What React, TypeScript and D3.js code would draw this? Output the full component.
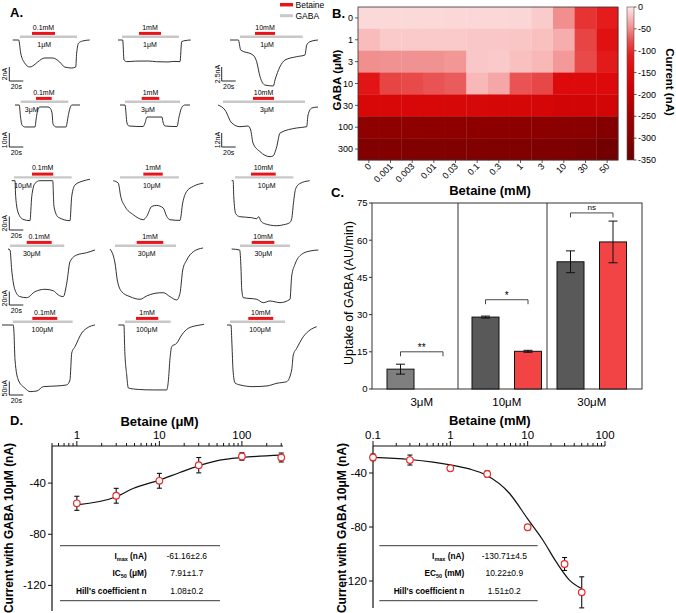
import React from "react";
import * as d3 from "d3";

type Pt = [number, number];
const FONT = "'Liberation Sans', Arial, Helvetica, sans-serif";
const W = 676;
const H = 613;

// ================= Panel A data (time in s, current in nA) =================
const gabaConcA = ["1μM", "3μM", "10μM", "30μM", "100μM"];
const betaineConcA = ["0.1mM", "1mM", "10mM"];
const scaleBarValues = [[2, 2, 2.5], [10, 10, 12], [20, 20, 20], [20, 20, 20], [50, 50, 50]];
const scaleBarSeconds = 20;

const trace_r1c1: Pt[] = [[0,0],[8.6,0],[11.4,-1.86],[17.1,-3.29],[24.3,-3.86],[28.6,-3.71],[35.7,-3.14],[45.7,-2.57],[57.1,-2.57],[67.1,-3.14],[74.3,-3.86],[84.3,-4],[90,-3.86],[91.4,-1.86],[94.3,-0.43],[100,-0.14],[110,0]];
const trace_r1c2: Pt[] = [[0,0],[6.7,0],[8.6,-2.86],[12.4,-3.09],[25,-3.02],[42.9,-3],[55,-3.1],[71.4,-3.14],[80,-3.06],[88.6,-3.09],[91,-0.23],[95.7,-0.09],[103.9,0]];
const trace_r1c3: Pt[] = [[0,0],[11.9,0],[15.3,-1.79],[32.9,-2.68],[38.1,-3.88],[42.9,-6.55],[50,-8.04],[61.9,-8.21],[64.3,-7.14],[71.4,-4.77],[78.6,-3.57],[95.3,-2.98],[107.1,-2.68],[109.6,-0.89],[114.3,-0.3],[125.7,0]];
const trace_r2c1: Pt[] = [[0,0],[6.1,0],[7.9,-8.6],[10,-14.3],[14.3,-15.7],[28.6,-15.7],[30,-10.7],[32.9,-2.9],[35.7,-1.4],[47.1,-1.4],[50,-2.1],[52.9,-5.7],[54.3,-13.6],[58.6,-15.7],[72.9,-15.7],[75.7,-8.6],[78.6,-2.1],[81.4,0],[92.9,0]];
const trace_r2c2: Pt[] = [[0,0],[7.1,0],[10,-12.9],[12.9,-15],[32.9,-15.4],[35.7,-12.9],[38.6,-8.6],[42.9,-8.6],[60,-8.6],[61.4,-12.1],[64.3,-15],[81.4,-15.4],[84.3,-8.6],[88.6,-1.4],[92.9,0],[100,0]];
const trace_r2c3: Pt[] = [[0,0],[10,-4.3],[19.6,-15.4],[31.4,-18.6],[42.9,-18],[46.7,-21.4],[50,-32.6],[60,-40],[74.3,-44.3],[78.6,-43.7],[83.9,-35.7],[88.6,-24],[112.4,-19.7],[126.7,-18.6],[128.6,-8.6],[133.9,-2.6],[142.9,-1.7]];
const trace_r3c1: Pt[] = [[0,0],[4.7,0],[5.7,-23.7],[9.4,-47.8],[16.1,-57.2],[26.1,-59.2],[28.6,-23.7],[33.3,-3.9],[40.4,0],[58.6,0],[60.4,-38.5],[66.6,-54.2],[83.3,-59.2],[85.7,-23.7],[90.4,-6.4],[101.9,-0.4],[111.9,2.1]];
const trace_r3c2: Pt[] = [[0,0],[7.1,-3.6],[10.6,-23.3],[16.7,-38.1],[28.6,-50.4],[42.9,-57.8],[47.7,-52.9],[54.9,-38.1],[62,-36.6],[71.4,-40.6],[76.3,-52.9],[81,-57.8],[95.3,-58.8],[99.1,-33.2],[104.9,-15.8],[114.3,-8.4],[128.6,-3.6]];
const trace_r3c3: Pt[] = [[0,0],[2.1,0],[2.9,-22.2],[5.7,-48.9],[11.4,-53.3],[28.6,-54.8],[35.7,-56.3],[38.6,-53.3],[41.4,-59.2],[47.1,-63.7],[64.3,-66.7],[74.3,-65.2],[82.9,-62.2],[85.7,-56.3],[88.6,-29.6],[91.4,-11.8],[97.1,-4.4],[111.4,0]];
const trace_r4c1: Pt[] = [[0,0],[2.9,-1.5],[5.3,-31.1],[10,-60.7],[17.1,-70.6],[26.7,-72.1],[38.6,-63.2],[52.9,-59.7],[64.7,-61.8],[71.9,-68.1],[79,-70.6],[83.9,-50.8],[88.6,-18.8],[98.1,-8.9],[112.4,-5.5],[124.3,-1.5]];
const trace_r4c2: Pt[] = [[0,0],[7.1,-20.7],[10.4,-45.9],[16.7,-63.2],[28.6,-70.6],[42.9,-74.5],[52.4,-69.6],[64.3,-65.6],[76.1,-64.7],[85.7,-70.6],[95.3,-75.5],[100,-65.6],[103.9,-31.1],[109.6,-16.3],[119,-4],[132.9,1.5]];
const trace_r4c3: Pt[] = [[0,0],[11.4,-1.5],[13.3,-29.6],[14.3,-59.2],[16.6,-72.1],[35.7,-74.5],[45.1,-79.5],[54.7,-77],[69,-79.5],[83.3,-74.5],[85.7,-40],[90.4,-22.7],[100,-7.8],[111.9,-3],[123.7,-1.5]];
const trace_r5c1: Pt[] = [[0,0],[16.1,0],[16.9,-18.5],[18.6,-129.5],[23.3,-203.5],[32.9,-234.2],[40,-246.8],[50,-244.2],[59,-228.3],[78.6,-225.7],[92.4,-222],[97.1,-203.5],[99.6,-103.6],[104.3,-80.3],[113.9,-29.6],[123.3,-8.5],[132.9,0]];
const trace_r5c2: Pt[] = [[0,0],[8.1,0],[9.1,-86.2],[12,-185],[14.3,-233.1],[28.6,-238.7],[50,-240.5],[69.1,-240.5],[71.4,-209.8],[73.9,-123.2],[76.3,-79.9],[83.4,-67.7],[90.6,-37],[100,-12.2],[116.7,0],[122.4,2.6]];
const trace_r5c3: Pt[] = [[0,0],[5.7,0],[7.1,-74],[8.6,-166.5],[11.4,-214.6],[18.6,-222],[37.1,-228.3],[57.1,-225.7],[71.4,-215.7],[85.3,-209.8],[92.4,-166.5],[94.7,-111],[99.6,-86.2],[109,-43.3],[118.6,-18.5],[128.1,-6.3]];

const traces: Pt[][][] = [
  [trace_r1c1, trace_r1c2, trace_r1c3],
  [trace_r2c1, trace_r2c2, trace_r2c3],
  [trace_r3c1, trace_r3c2, trace_r3c3],
  [trace_r4c1, trace_r4c2, trace_r4c3],
  [trace_r5c1, trace_r5c2, trace_r5c3],
];
// application windows (s)
const gabaWindows: Pt[][] = [
  [[10.4, 91.9], [5.7, 87.1], [14.3, 103.9]],
  [[8.1, 76.1], [7.1, 85.7], [7.1, 124.3]],
  [[3.3, 85.7], [9.6, 93.9], [4.7, 88]],
  [[2.9, 80.4], [7.1, 94.3], [11.9, 83.3]],
  [[15.3, 101], [9.6, 74.9], [4.3, 82.9]],
];
const betaineWindows: Pt[][] = [
  [[27.6, 60.4], [30, 61.4], [35.7, 64.3]],
  [[30, 52.4], [31, 56.1], [50, 80]],
  [[29, 59.4], [42.9, 70.6], [27.6, 62.9]],
  [[26.7, 62.4], [38.1, 76.1], [28.6, 60.9]],
  [[43.3, 79], [25.3, 57.1], [30.4, 66.1]],
];
const gabaLabelTimes = [[45, 45.7, 52.9], [23.9, 40, 70], [16.1, 54.9, 50], [33.9, 52.4, 45.1], [57.6, 40.6, 47.1]];

// ================= Panel B data =================
const hmBetaine = ["0", "0.001", "0.003", "0.01", "0.03", "0.1", "0.3", "1", "3", "10", "30", "50"];
const hmGaba = ["0", "1", "3", "10", "30", "100", "300"];
const hmRow_G0 = [-8, -8, -8, -8, -9, -9, -9, -10, -16, -48, -95, -110];
const hmRow_G1 = [-24, -17, -17, -17, -17, -18, -18, -19, -22, -32, -84, -135];
const hmRow_G3 = [-48, -46, -46, -46, -44, -18, -17, -22, -26, -42, -80, -115];
const hmRow_G10 = [-125, -84, -80, -76, -72, -26, -35, -76, -82, -150, -150, -150];
const hmRow_G30 = [-160, -160, -160, -160, -162, -162, -163, -165, -168, -175, -175, -172];
const hmRow_G100 = [-285, -285, -285, -287, -287, -287, -288, -288, -290, -292, -295, -305];
const hmRow_G300 = [-308, -308, -310, -310, -310, -311, -312, -312, -314, -315, -320, -335];
const hmRows = [hmRow_G0, hmRow_G1, hmRow_G3, hmRow_G10, hmRow_G30, hmRow_G100, hmRow_G300];
const hmColorValues = [-350, -300, -250, -200, -150, -110, -80, -50, -25, 0];
const hmColors = ["#6a0000", "#870000", "#a20000", "#c60000", "#dc0a0a", "#e41c1c", "#e84a4a", "#f08a8a", "#f8baba", "#fde8e8"];
const hmColorTicks = [0, -50, -100, -150, -200, -250, -300, -350];

// ================= Panel C data =================
const cGroups = ["3μM", "10μM", "30μM"];
const cControl = [8, 29, 51.3];
const cControlErr = [2, 0.4, 4.4];
const cBetaine = [0, 15.2, 59.3];
const cBetaineErr = [0, 0.4, 8.4];
const cSigLabels = ["**", "*", "ns"];
const cSigLevels = [15, 36, 71];
const cYTicks = [0, 15, 30, 45, 60, 75];

// ================= Panel D data =================
const dLeftX = [1, 3, 10, 30, 100, 300];
const dLeftY = [-55.8, -49.9, -38.2, -26, -19.2, -20];
const dLeftErr = [5.5, 5.8, 5.8, 6, 2.9, 3.5];
const dLeftFitX = [1, 3, 4.8, 10, 17.7, 30, 54, 100, 300];
const dLeftFitY = [-57, -50.7, -44.2, -37.7, -31.7, -26.5, -22.1, -20, -18.2];
const dRightX = [0.1, 0.3, 1, 3, 10, 30, 50];
const dRightY = [-28.4, -30.4, -36.5, -40.7, -80.2, -107.4, -128.4];
const dRightErr = [2.5, 3.7, 1.7, 2.2, 2, 4.8, 11.5];
const dRightFitX = [0.1, 0.3, 0.6, 1, 1.76, 2.9, 5.8, 10, 15.7, 23.3, 34.7, 49];
const dRightFitY = [-28.4, -30, -32, -34, -37, -41.5, -55, -74, -89.6, -105.7, -119.3, -125.4];
const dYTicks = [-40, -80, -120];
const dLeftTable = [["I", "max", " (nA)", "-61.16±2.6"], ["IC", "50", " (μM)", "7.91±1.7"], ["Hill's coefficient n", "", "", "1.08±0.2"]];
const dRightTable = [["I", "max", " (nA)", "-130.71±4.5"], ["EC", "50", " (mM)", "10.22±0.9"], ["Hill's coefficient n", "", "", "1.51±0.2"]];

// ================= Layout =================
const aRowY = [40, 105, 180.7, 249, 325];
const aColX0 = [[12.7, 118, 230], [15, 120, 218], [11.7, 113.3, 231.7], [8, 110, 231.7], [2, 118.3, 227]];
const aScalePx = [14, 14, 13.5, 13.5, 13.5];
const A_PX_PER_S = 0.7;
const aScaleBarX = [9.3, 221.7];
const aScaleBarBottom = [81, 147, 230, 305, 395];

const RED = "#e8141a";

function LogTicks({ scale, y, labels }: { scale: any; y: number; labels: number[] }) {
  const ticks: number[] = scale.ticks();
  const [r0, r1] = scale.range();
  return (
    <g>
      <line x1={r0} x2={r1} y1={y} y2={y} stroke="#111" strokeWidth={1.2} />
      {ticks.map((t, i) => {
        const major = Math.abs(Math.log10(t) - Math.round(Math.log10(t))) < 1e-6;
        return <line key={i} x1={scale(t)} x2={scale(t)} y1={y} y2={y - (major ? 5 : 3)} stroke="#111" strokeWidth={1} />;
      })}
      {labels.map((t, i) => (
        <text key={"l" + i} x={scale(t)} y={y - 7} fontSize={11.5} textAnchor="middle">{t}</text>
      ))}
    </g>
  );
}

function StatTable({ x1, x2, labelRight, valueCenter, rows }: { x1: number; x2: number; labelRight: number; valueCenter: number; rows: string[][] }) {
  const rowY = [559, 575.7, 594];
  return (
    <g>
      <line x1={x1} x2={x2} y1={545.7} y2={545.7} stroke="#222" strokeWidth={0.9} />
      <line x1={x1} x2={x2} y1={600.7} y2={600.7} stroke="#222" strokeWidth={0.9} />
      {rows.map((r, i) => (
        <g key={i}>
          <text x={labelRight} y={rowY[i]} fontSize={8.3} fontWeight="bold" textAnchor="end">
            <tspan>{r[0]}</tspan>
            {r[1] ? <tspan fontSize={5.5} dy={1.8}>{r[1]}</tspan> : null}
            {r[2] ? <tspan dy={-1.8}>{r[2]}</tspan> : null}
          </text>
          <text x={valueCenter} y={rowY[i]} fontSize={8.5} textAnchor="middle">{r[3]}</text>
        </g>
      ))}
    </g>
  );
}

export default function App() {
  // ---------- Panel A ----------
  const panelA: React.ReactNode[] = [];
  for (let r = 0; r < traces.length; r++) {
    for (let c = 0; c < 3; c++) {
      const x0 = aColX0[r][c];
      const base = aRowY[r];
      const xs = d3.scaleLinear().domain([0, 1]).range([x0, x0 + A_PX_PER_S]);
      const ys = d3.scaleLinear().domain([0, scaleBarValues[r][c]]).range([base, base - aScalePx[r]]);
      const path = d3.line<Pt>().x((d) => xs(d[0])).y((d) => ys(d[1])).curve(d3.curveMonotoneX)(traces[r][c]) || "";
      const [g0, g1] = gabaWindows[r][c];
      const [b0, b1] = betaineWindows[r][c];
      panelA.push(
        <g key={`t${r}${c}`}>
          <line x1={xs(g0)} x2={xs(g1)} y1={base - 3.3} y2={base - 3.3} stroke="#c8c8c8" strokeWidth={2.4} />
          <line x1={xs(b0)} x2={xs(b1)} y1={base - 6.6} y2={base - 6.6} stroke={RED} strokeWidth={3} />
          <text x={xs((b0 + b1) / 2)} y={base - 10.3} fontSize={7} textAnchor="middle">{betaineConcA[c]}</text>
          <text x={xs(gabaLabelTimes[r][c])} y={base + 6.8} fontSize={7} textAnchor="middle">{gabaConcA[r]}</text>
          <path d={path} fill="none" stroke="#1a1a1a" strokeWidth={0.9} />
        </g>
      );
      // scale bars
      const hasBar = c === 0 || (c === 2 && r < 2);
      if (hasBar) {
        const bx = aScaleBarX[c === 0 ? 0 : 1];
        const bb = aScaleBarBottom[r];
        const top = ys(scaleBarValues[r][c]) - base + bb;
        const right = bx + scaleBarSeconds * A_PX_PER_S;
        panelA.push(
          <g key={`sb${r}${c}`}>
            <path d={`M${bx},${top}V${bb}H${right}`} fill="none" stroke="#111" strokeWidth={0.9} />
            <text transform={`translate(${bx - 2},${(top + bb) / 2}) rotate(-90)`} fontSize={7} textAnchor="middle">{`${scaleBarValues[r][c]}nA`}</text>
            <text x={bx + 7} y={bb + 7.5} fontSize={7} textAnchor="middle">{`${scaleBarSeconds}s`}</text>
          </g>
        );
      }
    }
  }

  // ---------- Panel B ----------
  const hx = d3.scaleBand<string>().domain(hmBetaine).range([358, 618]);
  const hy = d3.scaleBand<string>().domain(hmGaba).range([7, 160]);
  const hColor = d3.scaleLinear<string>().domain(hmColorValues).range(hmColors).clamp(true);
  const cbY = d3.scaleLinear().domain([-350, 0]).range([160, 7]);

  // ---------- Panel C ----------
  const yC = d3.scaleLinear().domain([0, 75]).range([389, 203]);
  const xC = d3.scalePoint<number>().domain([0, 1, 2, 3, 4, 5]).range([400.5, 613]);
  const cBarW = 27;
  const cFrame = { left: 372, right: 642, dividers: [458, 547] };

  // ---------- Panel D ----------
  const dlx = d3.scaleLog().domain([0.5, 315]).range([52, 283]);
  const dly = d3.scaleLinear().domain([-140, -11]).range([611, 446]);
  const drx = d3.scaleLog().domain([0.1, 100]).range([373, 605]);
  const dry = d3.scaleLinear().domain([-140, -20]).range([608, 446]);

  const fitLine = (xs: any, ys: any, X: number[], Y: number[]) =>
    d3.line<number>().x((_, i) => xs(X[i])).y((_, i) => ys(Y[i])).curve(d3.curveMonotoneX)(X) || "";

  const points = (xs: any, ys: any, X: number[], Y: number[], E: number[]) =>
    X.map((x, i) => (
      <g key={i}>
        <line x1={xs(x)} x2={xs(x)} y1={ys(Y[i] - E[i])} y2={ys(Y[i] + E[i])} stroke="#111" strokeWidth={1.1} />
        <line x1={xs(x) - 2.5} x2={xs(x) + 2.5} y1={ys(Y[i] - E[i])} y2={ys(Y[i] - E[i])} stroke="#111" strokeWidth={1.1} />
        <line x1={xs(x) - 2.5} x2={xs(x) + 2.5} y1={ys(Y[i] + E[i])} y2={ys(Y[i] + E[i])} stroke="#111" strokeWidth={1.1} />
        <circle cx={xs(x)} cy={ys(Y[i])} r={3.3} fill="#fff" stroke="#ee2a2a" strokeWidth={1.2} />
      </g>
    ));

  const yAxisD = (xs0: number, ys: any, top: number, bottom: number) => (
    <g>
      <line x1={xs0} x2={xs0} y1={top} y2={bottom} stroke="#111" strokeWidth={1.2} />
      {dYTicks.map((t) => (
        <g key={t}>
          <line x1={xs0 - 4} x2={xs0} y1={ys(t)} y2={ys(t)} stroke="#111" strokeWidth={1} />
          <text x={xs0 - 6} y={ys(t) + 4} fontSize={11.5} textAnchor="end">{t}</text>
        </g>
      ))}
    </g>
  );

  return (
    <div style={{ position: "absolute", left: 0, top: 0, width: W, height: H, background: "#fff" }}>
      <svg width={W} height={H} fontFamily={FONT} style={{ display: "block" }}>
        <rect width={W} height={H} fill="#fff" />
        {/* ===== Panel A ===== */}
        <text x={10} y={17} fontSize={13} fontWeight="bold">A.</text>
        {panelA}
        {/* legend */}
        <line x1={280} x2={293} y1={4.7} y2={4.7} stroke={RED} strokeWidth={3.5} />
        <text x={295.5} y={7.8} fontSize={8.5}>Betaine</text>
        <line x1={280} x2={293} y1={15.7} y2={15.7} stroke="#c8c8c8" strokeWidth={3} />
        <text x={295.5} y={18.8} fontSize={8.5}>GABA</text>

        {/* ===== Panel B ===== */}
        <text x={332} y={18} fontSize={13} fontWeight="bold">B.</text>
        {hmRows.map((row, ri) =>
          row.map((v, ci) => (
            <rect key={`${ri}-${ci}`} x={hx(hmBetaine[ci])} y={hy(hmGaba[ri])} width={hx.bandwidth() + 0.3} height={hy.bandwidth() + 0.3} fill={hColor(v)} />
          ))
        )}
        <rect x={358} y={7} width={260} height={153} fill="none" stroke="#333" strokeWidth={0.8} />
        {hmGaba.map((g) => (
          <g key={g}>
            <line x1={355} x2={358} y1={(hy(g) || 0) + hy.bandwidth() / 2} y2={(hy(g) || 0) + hy.bandwidth() / 2} stroke="#333" strokeWidth={0.8} />
            <text x={353} y={(hy(g) || 0) + hy.bandwidth() / 2 + 3.2} fontSize={9} textAnchor="end">{g}</text>
          </g>
        ))}
        {hmBetaine.map((b) => {
          const cx = (hx(b) || 0) + hx.bandwidth() / 2;
          return (
            <g key={b}>
              <line x1={cx} x2={cx} y1={160} y2={163} stroke="#333" strokeWidth={0.8} />
              <text transform={`translate(${cx + 3},${167}) rotate(-45)`} fontSize={9} textAnchor="end">{b}</text>
            </g>
          );
        })}
        <text transform="translate(340.5,80) rotate(-90)" fontSize={11.5} fontWeight="bold" textAnchor="middle">GABA (μM)</text>
        <text x={490} y={195} fontSize={13} fontWeight="bold" textAnchor="middle">Betaine (mM)</text>
        {/* colorbar */}
        <defs>
          <linearGradient id="cbgrad" x1="0" y1="1" x2="0" y2="0">
            {hmColorValues.map((v, i) => (
              <stop key={i} offset={`${((v + 350) / 350) * 100}%`} stopColor={hmColors[i]} />
            ))}
          </linearGradient>
        </defs>
        <rect x={627} y={7} width={7} height={153} fill="url(#cbgrad)" stroke="#555" strokeWidth={0.6} />
        {hmColorTicks.map((t) => (
          <g key={t}>
            <line x1={634} x2={636.5} y1={cbY(t)} y2={cbY(t)} stroke="#333" strokeWidth={0.8} />
            <text x={638} y={cbY(t) + 3.2} fontSize={9}>{t}</text>
          </g>
        ))}
        <text transform="translate(666,82) rotate(90)" fontSize={11.5} fontWeight="bold" textAnchor="middle">Current (nA)</text>

        {/* ===== Panel C ===== */}
        <text x={331} y={197} fontSize={13} fontWeight="bold">C.</text>
        <rect x={cFrame.left} y={yC(75)} width={cFrame.right - cFrame.left} height={yC(0) - yC(75)} fill="none" stroke="#333" strokeWidth={1} />
        {cFrame.dividers.map((d) => (
          <line key={d} x1={d} x2={d} y1={yC(75)} y2={yC(0)} stroke="#333" strokeWidth={1} />
        ))}
        {cYTicks.map((t) => (
          <g key={t}>
            <line x1={cFrame.left - 3} x2={cFrame.left} y1={yC(t)} y2={yC(t)} stroke="#333" strokeWidth={1} />
            <text x={cFrame.left - 4.5} y={yC(t) + 3.3} fontSize={9.5} textAnchor="end">{t}</text>
          </g>
        ))}
        {cGroups.map((g, gi) => {
          const xc = xC(gi * 2) || 0;
          const xb = xC(gi * 2 + 1) || 0;
          const ctrlFill = gi === 0 ? "#7f7f7f" : "#595959";
          const lvl = yC(cSigLevels[gi]);
          return (
            <g key={g}>
              <rect x={xc - cBarW / 2} y={yC(cControl[gi])} width={cBarW} height={yC(0) - yC(cControl[gi])} fill={ctrlFill} stroke="#111" strokeWidth={1} />
              {cBetaine[gi] > 0 ? (
                <rect x={xb - cBarW / 2} y={yC(cBetaine[gi])} width={cBarW} height={yC(0) - yC(cBetaine[gi])} fill="#f24444" stroke="#111" strokeWidth={1} />
              ) : null}
              {[
                [xc, cControl[gi], cControlErr[gi]],
                [xb, cBetaine[gi], cBetaineErr[gi]],
              ].filter((e) => e[1] > 0).map((e, k) => (
                <g key={k}>
                  <line x1={e[0]} x2={e[0]} y1={yC(e[1] - e[2])} y2={yC(e[1] + e[2])} stroke="#111" strokeWidth={1} />
                  <line x1={e[0] - 4.5} x2={e[0] + 4.5} y1={yC(e[1] - e[2])} y2={yC(e[1] - e[2])} stroke="#111" strokeWidth={1} />
                  <line x1={e[0] - 4.5} x2={e[0] + 4.5} y1={yC(e[1] + e[2])} y2={yC(e[1] + e[2])} stroke="#111" strokeWidth={1} />
                </g>
              ))}
              <path d={`M${xc},${lvl + 4.5}V${lvl}H${xb}V${lvl + 4.5}`} fill="none" stroke="#333" strokeWidth={0.9} />
              <text x={(xc + xb) / 2} y={lvl - (cSigLabels[gi] === "ns" ? 3 : 1)} fontSize={cSigLabels[gi] === "ns" ? 8 : 10} textAnchor="middle">{cSigLabels[gi]}</text>
              <text x={(xc + xb) / 2} y={405.5} fontSize={11.5} textAnchor="middle">{g}</text>
            </g>
          );
        })}
        <text transform="translate(353,293) rotate(-90)" fontSize={12.5} textAnchor="middle">Uptake of GABA (AU/min)</text>

        {/* ===== Panel D ===== */}
        <text x={10} y={425} fontSize={13} fontWeight="bold">D.</text>
        {/* left */}
        <text x={159.5} y={425.5} fontSize={13} fontWeight="bold" textAnchor="middle">Betaine (μM)</text>
        <LogTicks scale={dlx} y={446} labels={[1, 10, 100]} />
        {yAxisD(52, dly, 446, 611)}
        <text transform="translate(12.5,528) rotate(-90)" fontSize={12} fontWeight="bold" textAnchor="middle">Current with GABA 10μM (nA)</text>
        <path d={fitLine(dlx, dly, dLeftFitX, dLeftFitY)} fill="none" stroke="#111" strokeWidth={1.2} />
        {points(dlx, dly, dLeftX, dLeftY, dLeftErr)}
        <StatTable x1={60} x2={220} labelRight={146.7} valueCenter={186.7} rows={dLeftTable} />
        {/* right */}
        <text x={489.8} y={425} fontSize={13} fontWeight="bold" textAnchor="middle">Betaine (mM)</text>
        <LogTicks scale={drx} y={446} labels={[0.1, 1, 10, 100]} />
        {yAxisD(373, dry, 446, 608)}
        <text transform="translate(346,528) rotate(-90)" fontSize={12} fontWeight="bold" textAnchor="middle">Current with GABA 10μM (nA)</text>
        <path d={fitLine(drx, dry, dRightFitX, dRightFitY)} fill="none" stroke="#111" strokeWidth={1.2} />
        {points(drx, dry, dRightX, dRightY, dRightErr)}
        <StatTable x1={379.3} x2={537.7} labelRight={464.3} valueCenter={504.3} rows={dRightTable} />
      </svg>
    </div>
  );
}
